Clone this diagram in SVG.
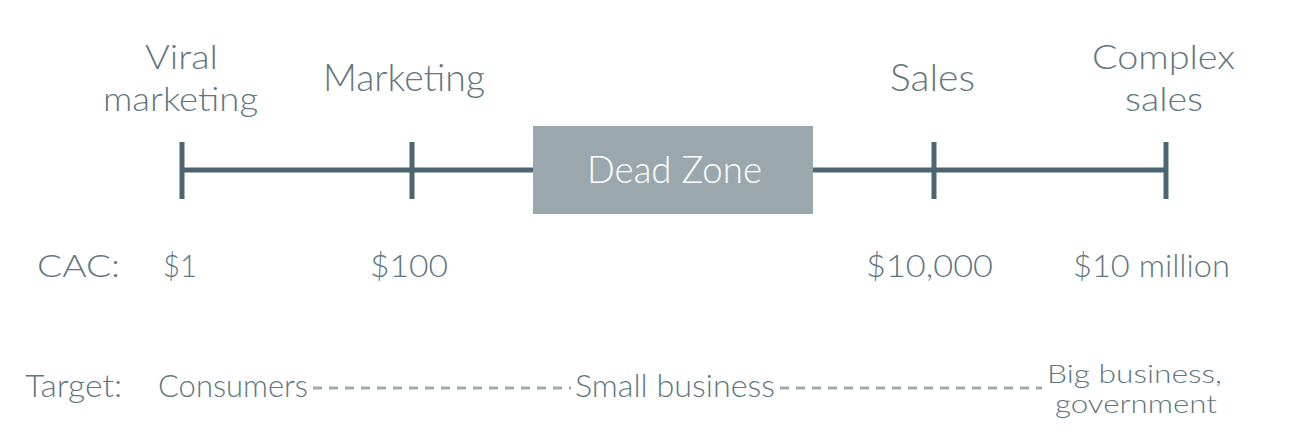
<svg xmlns="http://www.w3.org/2000/svg" width="1302" height="448" viewBox="0 0 1302 448">
<style>
.t{font-family:Lato,"Liberation Sans",sans-serif;font-weight:300;fill:#5f777f}
.big{font-size:37px}
.two{font-size:34px}
.mid{font-size:32px}
.sm{font-size:26px}
.ax{stroke:#4b6571;stroke-width:5;fill:none}
.dash{stroke:#9fabaf;stroke-width:3;stroke-dasharray:9 7;fill:none}
</style>
<rect width="1302" height="448" fill="#fff"/>
<g id="connectors">
<line class="ax" x1="182" y1="170" x2="533" y2="170"/>
<line class="ax" x1="813" y1="170" x2="1166" y2="170"/>
<line class="dash" x1="313" y1="388" x2="571" y2="388"/>
<line class="dash" x1="780" y1="388" x2="1042" y2="388"/>
</g>
<g id="tick-viral"><line class="ax" x1="182" y1="142" x2="182" y2="199"/>
<text class="t two" x="145" y="69" textLength="73" lengthAdjust="spacingAndGlyphs">Viral</text>
<text class="t two" x="103" y="111" textLength="155" lengthAdjust="spacingAndGlyphs">marketing</text></g>
<g id="tick-marketing"><line class="ax" x1="412" y1="142" x2="412" y2="199"/>
<text class="t big" x="323" y="91" textLength="162" lengthAdjust="spacingAndGlyphs">Marketing</text></g>
<g id="dead-zone"><rect x="533" y="126" width="280" height="88" fill="#9aa8ae"/>
<text class="t big" x="587" y="183" textLength="175" lengthAdjust="spacingAndGlyphs" style="fill:#fff">Dead Zone</text></g>
<g id="tick-sales"><line class="ax" x1="934" y1="142" x2="934" y2="199"/>
<text class="t big" x="890" y="91" textLength="85" lengthAdjust="spacingAndGlyphs">Sales</text></g>
<g id="tick-complex"><line class="ax" x1="1166" y1="142" x2="1166" y2="199"/>
<text class="t two" x="1092" y="69" textLength="143" lengthAdjust="spacingAndGlyphs">Complex</text>
<text class="t two" x="1125" y="111" textLength="78" lengthAdjust="spacingAndGlyphs">sales</text></g>
<g id="cac">
<text class="t mid" x="37" y="277" textLength="83" lengthAdjust="spacingAndGlyphs">CAC:</text>
<text class="t mid" x="163" y="277" textLength="34" lengthAdjust="spacingAndGlyphs">$1</text>
<text class="t mid" x="370" y="277" textLength="78" lengthAdjust="spacingAndGlyphs">$100</text>
<text class="t mid" x="866" y="277" textLength="127" lengthAdjust="spacingAndGlyphs">$10,000</text>
<text class="t mid" x="1073" y="277" textLength="157" lengthAdjust="spacingAndGlyphs">$10 million</text>
</g>
<g id="target">
<text class="t mid" x="25" y="397" textLength="97" lengthAdjust="spacingAndGlyphs">Target:</text>
<text class="t mid" x="158" y="397" textLength="150" lengthAdjust="spacingAndGlyphs">Consumers</text>
<text class="t mid" x="575" y="397" textLength="200" lengthAdjust="spacingAndGlyphs">Small business</text>
<text class="t sm" x="1047" y="383" textLength="175" lengthAdjust="spacingAndGlyphs">Big business,</text>
<text class="t sm" x="1055" y="413" textLength="162" lengthAdjust="spacingAndGlyphs">government</text>
</g>
</svg>
